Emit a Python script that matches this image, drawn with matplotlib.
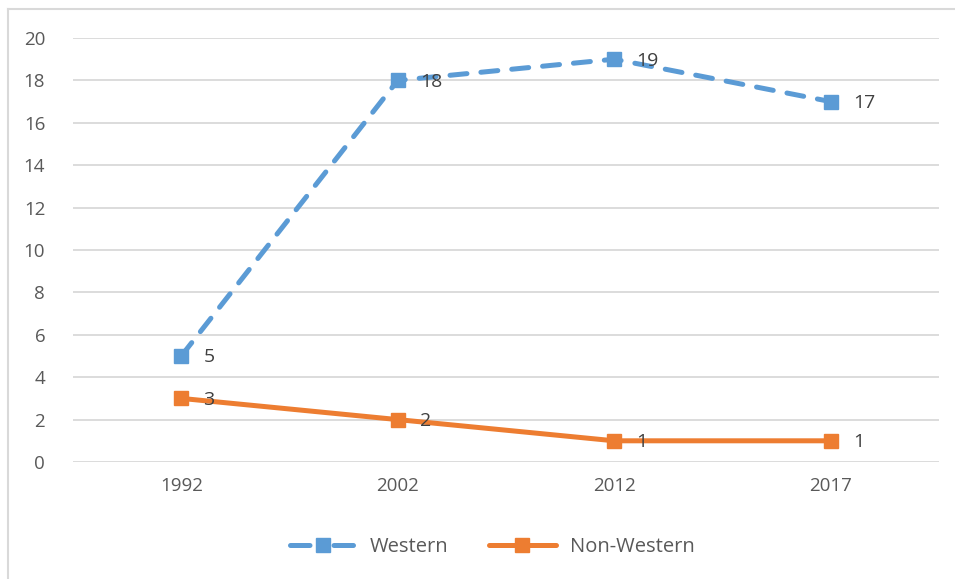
import matplotlib
matplotlib.use("Agg")
import matplotlib.pyplot as plt
from matplotlib.lines import Line2D

years = ["1992", "2002", "2012", "2017"]
western = [5, 18, 19, 17]
non_western = [3, 2, 1, 1]
y_ticks = [0, 2, 4, 6, 8, 10, 12, 14, 16, 18, 20]

BLUE = "#5B9BD5"
ORANGE = "#ED7D31"
TEXT = "#595959"
GRID = "#D9D9D9"

plt.rcParams["font.family"] = ["Open Sans", "DejaVu Sans"]

W, H = 955, 579
fig = plt.figure(figsize=(W / 100, H / 100), dpi=100)

# Light chart-area border: top and left edges
top_y = 1 - 9 / H
left_x = 8 / W
fig.add_artist(Line2D([left_x, 1.05], [top_y, top_y], transform=fig.transFigure,
                      color=GRID, linewidth=1.5))
fig.add_artist(Line2D([left_x, left_x], [-0.05, top_y], transform=fig.transFigure,
                      color=GRID, linewidth=1.5))

ax = fig.add_axes([73 / W, 1 - 462 / H, (939 - 73) / W, (462 - 38) / H])
x = list(range(len(years)))

ax.plot(x, western, color=BLUE, linewidth=3.6, linestyle=(0, (3.4, 2.8)),
        dash_capstyle="round", marker="s", markersize=10.5, zorder=3)
ax.plot(x, non_western, color=ORANGE, linewidth=3.6, solid_capstyle="round",
        marker="s", markersize=10.5, zorder=3)

for xi, v in zip(x, western):
    ax.annotate(str(v), (xi, v), xytext=(16, -1), textcoords="offset points",
                va="center", ha="left", fontsize=14, color="#404040", zorder=4)
for xi, v in zip(x, non_western):
    ax.annotate(str(v), (xi, v), xytext=(16, -1), textcoords="offset points",
                va="center", ha="left", fontsize=14, color="#404040", zorder=4)

ax.set_xlim(-0.5, len(years) - 0.5)
ax.set_ylim(0, 20)
ax.set_yticks(y_ticks)
ax.set_xticks(x)
ax.set_xticklabels(years)
ax.tick_params(axis="both", length=0, labelsize=13.5, labelcolor=TEXT)
ax.tick_params(axis="y", pad=20)
ax.tick_params(axis="x", pad=11)
ax.yaxis.grid(True, color=GRID, linewidth=1.3)
ax.set_axisbelow(True)
for s in ax.spines.values():
    s.set_visible(False)

handles = [
    Line2D([], [], color=BLUE, linewidth=3.6, linestyle=(0, (3.9, 4.8)),
           dash_capstyle="round", marker="s", markersize=10.5),
    Line2D([], [], color=ORANGE, linewidth=3.6, solid_capstyle="round",
           marker="s", markersize=10.5),
]
leg = fig.legend(handles, ["Western", "Non-Western"], loc="center",
                 bbox_to_anchor=(492 / W, 1 - 547 / H), ncol=2,
                 frameon=False, fontsize=14.5, handlelength=3.3, columnspacing=2.0,
                 handletextpad=0.7)
for t in leg.get_texts():
    t.set_color(TEXT)

fig.savefig("out.png", dpi=100)
